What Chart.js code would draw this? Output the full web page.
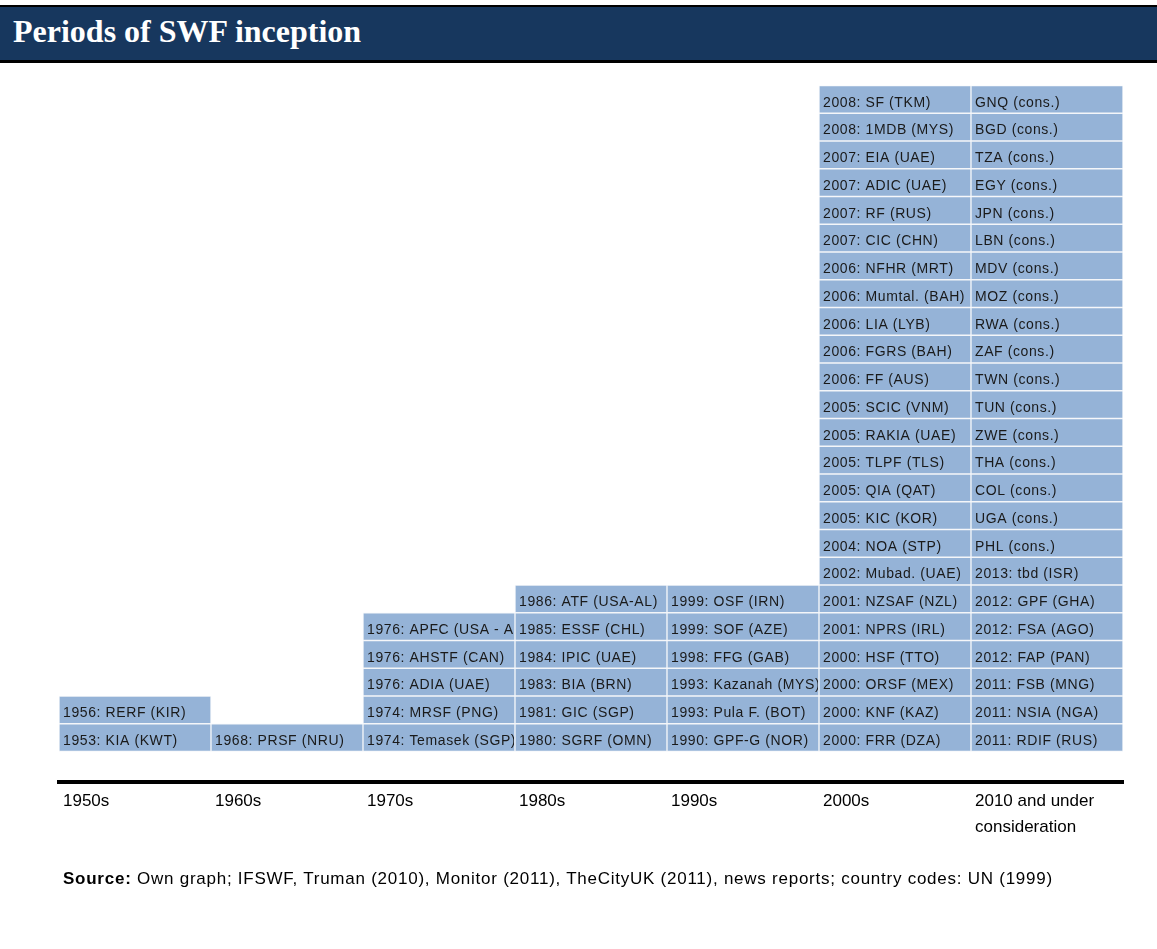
<!DOCTYPE html>
<html>
<head>
<meta charset="utf-8">
<script src="https://cdn.jsdelivr.net/npm/chart.js@4/dist/chart.umd.min.js"></script>
<style>
  html, body { margin: 0; padding: 0; background: #fff; }
  body { width: 1157px; height: 949px; position: relative; overflow: hidden; }
  #band {
    position: absolute; left: 0; top: 5px; width: 1157px; height: 53px;
    background: #17375e; border-top: 2px solid #000; border-bottom: 3px solid #000;
  }
  #title {
    position: absolute; left: 13px; top: 11px;
    font-family: "Liberation Serif", "Times New Roman", serif; font-weight: bold;
    font-size: 32px; color: #fff; line-height: 40px;
  }
  #source {
    position: absolute; left: 63px; top: 869px;
    font-family: "Liberation Sans", Arial, sans-serif; font-size: 17px; letter-spacing: 0.75px; color: #000;
  }
  #chart { position: absolute; left: 0; top: 0; }
</style>
</head>
<body>
<div id="band"></div>
<div id="title">Periods of SWF inception</div>
<canvas id="chart" width="1157" height="949"></canvas>
<div id="source"><b>Source:</b> Own graph; IFSWF, Truman (2010), Monitor (2011), TheCityUK (2011), news reports; country codes: UN (1999)</div>
<script>
// decades on the x axis
const categories = ['1950s', '1960s', '1970s', '1980s', '1990s', '2000s', ['2010 and under', 'consideration']];

// funds per decade, listed bottom to top
const funds1950s = ['1953: KIA (KWT)', '1956: RERF (KIR)'];
const funds1960s = ['1968: PRSF (NRU)'];
const funds1970s = ['1974: Temasek (SGP)', '1974: MRSF (PNG)', '1976: ADIA (UAE)', '1976: AHSTF (CAN)', '1976: APFC (USA - AK)'];
const funds1980s = ['1980: SGRF (OMN)', '1981: GIC (SGP)', '1983: BIA (BRN)', '1984: IPIC (UAE)', '1985: ESSF (CHL)', '1986: ATF (USA-AL)'];
const funds1990s = ['1990: GPF-G (NOR)', '1993: Pula F. (BOT)', '1993: Kazanah (MYS)', '1998: FFG (GAB)', '1999: SOF (AZE)', '1999: OSF (IRN)'];
const funds2000s = ['2000: FRR (DZA)', '2000: KNF (KAZ)', '2000: ORSF (MEX)', '2000: HSF (TTO)', '2001: NPRS (IRL)', '2001: NZSAF (NZL)',
  '2002: Mubad. (UAE)', '2004: NOA (STP)', '2005: KIC (KOR)', '2005: QIA (QAT)', '2005: TLPF (TLS)', '2005: RAKIA (UAE)',
  '2005: SCIC (VNM)', '2006: FF (AUS)', '2006: FGRS (BAH)', '2006: LIA (LYB)', '2006: Mumtal. (BAH)', '2006: NFHR (MRT)',
  '2007: CIC (CHN)', '2007: RF (RUS)', '2007: ADIC (UAE)', '2007: EIA (UAE)', '2008: 1MDB (MYS)', '2008: SF (TKM)'];
const funds2010s = ['2011: RDIF (RUS)', '2011: NSIA (NGA)', '2011: FSB (MNG)', '2012: FAP (PAN)', '2012: FSA (AGO)', '2012: GPF (GHA)',
  '2013: tbd (ISR)', 'PHL (cons.)', 'UGA (cons.)', 'COL (cons.)', 'THA (cons.)', 'ZWE (cons.)',
  'TUN (cons.)', 'TWN (cons.)', 'ZAF (cons.)', 'RWA (cons.)', 'MOZ (cons.)', 'MDV (cons.)',
  'LBN (cons.)', 'JPN (cons.)', 'EGY (cons.)', 'TZA (cons.)', 'BGD (cons.)', 'GNQ (cons.)'];

const columns = [funds1950s, funds1960s, funds1970s, funds1980s, funds1990s, funds2000s, funds2010s];
const maxRows = Math.max(...columns.map(c => c.length));

// one stacked dataset per row, each fund is one unit cell
const datasets = [];
for (let r = 0; r < maxRows; r++) {
  datasets.push({
    label: 'row ' + (r + 1),
    data: columns.map(c => (r < c.length ? 1 : null)),
    names: columns.map(c => c[r] || ''),
    backgroundColor: '#95b3d7',
    borderColor: '#f4f6f9',
    borderWidth: 1,
    borderSkipped: false,
    barPercentage: 1,
    categoryPercentage: 1
  });
}

const cellLabels = {
  id: 'cellLabels',
  afterDatasetsDraw(chart) {
    const ctx = chart.ctx;
    ctx.save();
    ctx.font = '14px "Liberation Sans", Arial, sans-serif';
    ctx.fillStyle = '#1a1a1a';
    ctx.textAlign = 'left';
    ctx.textBaseline = 'alphabetic';
    if ('letterSpacing' in ctx) ctx.letterSpacing = '0.6px';
    chart.data.datasets.forEach((ds, i) => {
      chart.getDatasetMeta(i).data.forEach((bar, c) => {
        if (ds.data[c] == null) return;
        const p = bar.getProps(['x', 'y', 'base', 'width'], true);
        const left = p.x - p.width / 2;
        ctx.save();
        ctx.beginPath();
        ctx.rect(left + 1, p.y + 1, p.width - 2, p.base - p.y - 2);
        ctx.clip();
        ctx.fillText(ds.names[c], left + 4, p.base - 6.5);
        ctx.restore();
      });
    });
    ctx.restore();
  }
};

new Chart(document.getElementById('chart'), {
  type: 'bar',
  data: { labels: categories, datasets: datasets },
  options: {
    responsive: false,
    animation: false,
    layout: { padding: { left: 59, right: 34, top: 85.5, bottom: 0 } },
    plugins: { legend: { display: false }, tooltip: { enabled: false } },
    scales: {
      x: {
        stacked: true,
        afterFit: (scale) => {
          scale.height = 167;
          scale.paddingLeft = 0;
          scale.paddingRight = 0;
        },
        grid: { display: false, drawTicks: false },
        border: { display: true, width: 4, color: '#000' },
        ticks: {
          align: 'start',
          labelOffset: -72,
          padding: 7,
          color: '#000',
          maxRotation: 0,
          autoSkip: false,
          font: { family: '"Liberation Sans", Arial, sans-serif', size: 17, lineHeight: 1.5 }
        }
      },
      y: {
        stacked: true,
        display: false,
        min: -1.1,
        max: maxRows
      }
    }
  },
  plugins: [cellLabels]
});
</script>
</body>
</html>
